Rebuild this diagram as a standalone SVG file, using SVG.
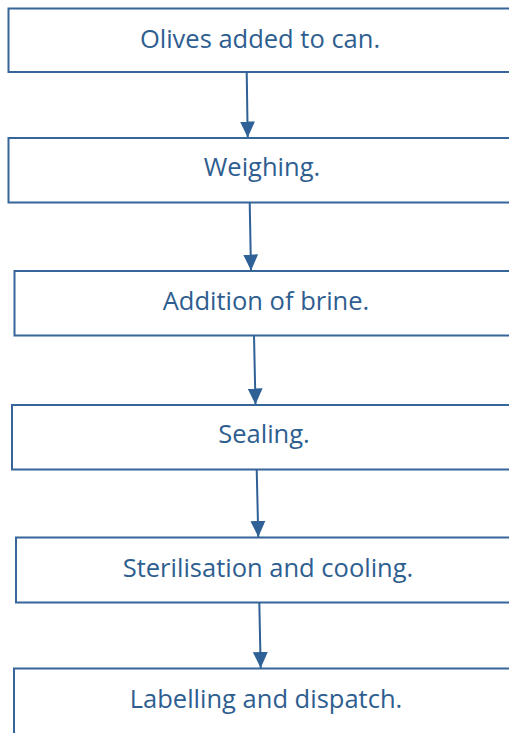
<svg xmlns="http://www.w3.org/2000/svg" width="509" height="733" viewBox="0 0 509 733">
<defs>
<style>
.box{fill:#fff;stroke:#36659a;stroke-width:2}
.lbl{font-family:"Open Sans","Liberation Sans",sans-serif;font-size:25.5px;fill:#2e5e90;text-anchor:middle}
.con{stroke:#2f6096;stroke-width:2;fill:none;marker-end:url(#ah)}
</style>
<marker id="ah" markerUnits="userSpaceOnUse" markerWidth="16" markerHeight="16" viewBox="0 0 15 14" refX="15" refY="7" orient="auto">
<path d="M0,0 L15,7 L0,14 Z" fill="#2f6096"/>
</marker>
</defs>
<rect width="509" height="733" fill="#fff"/>
<g id="n1"><rect class="box" x="8.5" y="8.5" width="510" height="63.5"/><text class="lbl" x="260" y="48">Olives added to can.</text></g>
<g id="n2"><rect class="box" x="8.5" y="138" width="510" height="64.5"/><text class="lbl" x="262" y="176">Weighing.</text></g>
<g id="n3"><rect class="box" x="14.5" y="271" width="510" height="64.5"/><text class="lbl" x="266" y="310">Addition of brine.</text></g>
<g id="n4"><rect class="box" x="12" y="405" width="510" height="64.5"/><text class="lbl" x="264" y="443">Sealing.</text></g>
<g id="n5"><rect class="box" x="16" y="537.5" width="510" height="65"/><text class="lbl" x="268" y="577">Sterilisation and cooling.</text></g>
<g id="n6"><rect class="box" x="14" y="668.5" width="510" height="70"/><text class="lbl" x="266" y="708">Labelling and dispatch.</text></g>
<g id="connectors">
<line class="con" x1="246.7" y1="72" x2="247.7" y2="137.5"/>
<line class="con" x1="249.7" y1="202.5" x2="251" y2="270.5"/>
<line class="con" x1="254" y1="335.5" x2="255.5" y2="404.5"/>
<line class="con" x1="256.7" y1="469.5" x2="258.3" y2="537"/>
<line class="con" x1="259.3" y1="602.5" x2="260.7" y2="668"/>
</g>
</svg>
